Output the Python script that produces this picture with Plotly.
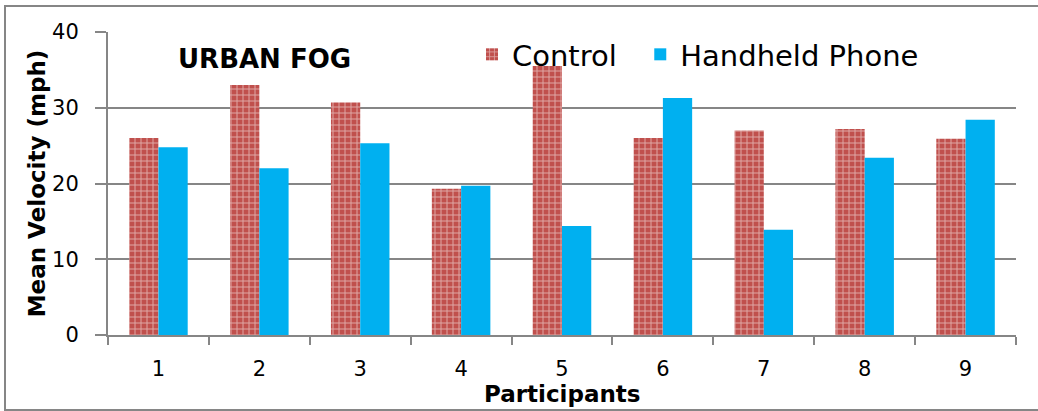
import plotly.graph_objects as go

participants = ["1", "2", "3", "4", "5", "6", "7", "8", "9"]
control = [26.0, 33.0, 30.7, 19.3, 35.5, 26.0, 27.0, 27.2, 25.9]
handheld = [24.8, 22.0, 25.3, 19.7, 14.4, 31.3, 13.9, 23.4, 28.4]
y_ticks = [0, 10, 20, 30, 40]

GRID = "#868686"
FONT = "DejaVu Sans"

fig = go.Figure()
fig.add_trace(go.Bar(
    name="Control\u00a0\u00a0", x=participants, y=control,
    marker=dict(color="#C0504D", line=dict(width=0),
                pattern=dict(shape="+", fgcolor="white", bgcolor="#C0504D",
                             size=6, solidity=0.3)),
))
fig.add_trace(go.Bar(
    name="Handheld Phone", x=participants, y=handheld,
    marker=dict(color="#00B0F0", line=dict(width=0)),
))

W, H = 1038, 411
L, R, T, B = 108, 22, 32, 76
pw, ph = W - L - R, H - T - B

fig.update_layout(
    width=W, height=H,
    margin=dict(l=L, r=R, t=T, b=B),
    paper_bgcolor="white", plot_bgcolor="white",
    barmode="group", bargap=0.42, bargroupgap=0,
    font=dict(family=FONT, color="black"),
    legend=dict(orientation="h", x=(472 - L) / pw, y=1.01, xanchor="left", yanchor="top",
                font=dict(size=29, family=FONT), bgcolor="rgba(0,0,0,0)",
                itemwidth=30, traceorder="normal"),
    xaxis=dict(
        showline=True, linecolor=GRID, linewidth=2,
        ticks="outside", ticklen=8, tickcolor=GRID, tickwidth=2,
        tickson="boundaries", tickfont=dict(size=21, family=FONT, color="black"),
        ticklabelstandoff=14,
        showgrid=False,
    ),
    yaxis=dict(
        range=[0, 40], tickvals=y_ticks,
        showline=True, linecolor=GRID, linewidth=2,
        showgrid=True, gridcolor=GRID, gridwidth=2,
        ticks="outside", ticklen=11, tickcolor=GRID, tickwidth=2,
        tickfont=dict(size=21, family=FONT, color="black"),
        ticklabelstandoff=12,
        zeroline=False,
        title=dict(text="<b>Mean Velocity (mph)</b>", font=dict(size=23, family=FONT), standoff=0),
    ),
    annotations=[
        dict(text="<b>URBAN FOG</b>", x=(264 - L) / pw, y=(T + ph - 59) / ph,
             xref="paper", yref="paper", showarrow=False, xanchor="center", yanchor="middle",
             font=dict(size=26, family=FONT, color="black")),
        dict(text="<b>Participants</b>", x=0.5, y=(T + ph - 394) / ph,
             xref="paper", yref="paper", showarrow=False, xanchor="center", yanchor="middle",
             font=dict(size=23, family=FONT, color="black")),
    ],
    shapes=[dict(
        type="rect", xref="paper", yref="paper",
        x0=(5 - L) / pw, x1=(1045 - L) / pw,
        y0=(T + ph - 410) / ph, y1=(T + ph - 6) / ph,
        line=dict(color=GRID, width=2), fillcolor="rgba(0,0,0,0)", layer="below",
    )],
)

fig.write_html("out.html", config={"displayModeBar": False},
               post_script="document.body.style.margin='0';document.body.style.overflow='hidden';")
